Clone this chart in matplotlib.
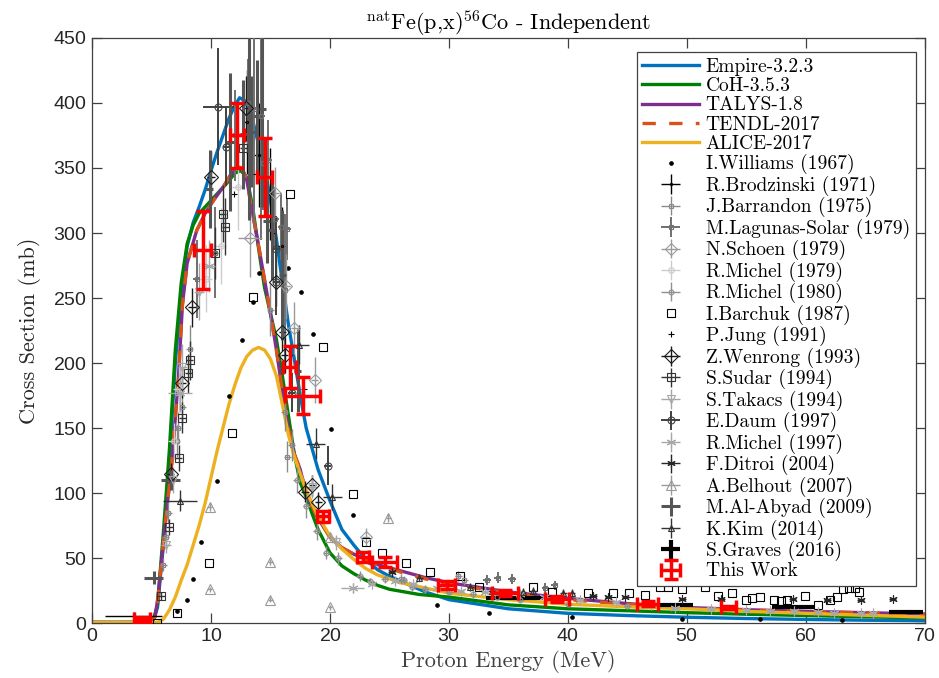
import matplotlib
matplotlib.use("Agg")
import matplotlib.pyplot as plt

plt.rcParams["font.family"] = ["cmr10", "DejaVu Serif"]
plt.rcParams["mathtext.fontset"] = "cm"
plt.rcParams["axes.formatter.use_mathtext"] = True

# ── Model curves ──────────────────────────────────────────────────────────────

emp_E = [0, 4.8, 5.2, 5.5, 6.0, 6.5, 7.0, 7.5, 8.0, 8.5, 9.0, 9.5, 10.0, 10.5, 11.0,
         11.5, 12.0, 12.4, 12.8, 13.2, 13.6, 14.0, 14.5, 15.0, 15.5, 16.0, 16.5, 17.0,
         17.5, 18.0, 18.5, 19.0, 19.5, 20.0, 21.0, 22.0, 23.0, 24.0, 25.0, 26.0, 28.0,
         30.0, 35.0, 40.0, 45.0, 50.0, 55.0, 60.0, 65.0, 70.0]
emp_s = [0.5, 0.5, 3, 12, 60, 125, 200, 255, 290, 308, 320, 333, 348, 362, 375,
         388, 398, 404, 402, 395, 383, 368, 350, 325, 295, 262, 230, 203,
         175, 150, 134, 118, 106, 94, 72, 60, 49, 41, 36, 32, 24,
         18, 11, 7.5, 5.8, 4.5, 3.5, 2.8, 2.2, 1.8]

coh_E = [0, 4.9, 5.2, 5.5, 6.0, 6.5, 7.0, 7.5, 8.0, 8.5, 9.0, 9.5, 10.0, 10.5, 11.0,
         11.5, 12.0, 12.5, 13.0, 13.5, 14.0, 14.5, 15.0, 15.5, 16.0, 16.5, 17.0, 17.5,
         18.0, 18.5, 19.0, 20.0, 21.0, 22.0, 23.0, 24.0, 25.0, 27.5, 30.0, 35.0, 40.0,
         45.0, 50.0, 55.0, 60.0, 65.0, 70.0]
coh_s = [0.5, 0.5, 4, 14, 70, 133, 210, 262, 292, 306, 315, 320, 325, 330, 335,
         340, 346, 348, 343, 320, 288, 258, 238, 218, 190, 160, 130, 108,
         97, 84, 72, 54, 44, 38, 33, 29, 26, 22, 20, 14, 11,
         9.5, 8.0, 6.8, 5.8, 4.8, 4.0]

tal_E = [0, 5.0, 5.3, 5.55, 6.1, 6.7, 7.25, 7.6, 8.0, 8.8, 9.5, 10.2, 11.0, 11.6,
         12.2, 12.6, 13.0, 13.5, 14.0, 14.5, 15.0, 15.5, 16.0, 16.5, 17.0, 17.5, 18.0,
         18.9, 20.0, 21.0, 22.0, 23.0, 24.0, 26.0, 28.0, 30.0, 35.0, 40.0, 45.0, 50.0,
         55.0, 60.0, 65.0, 70.0]
tal_s = [0.5, 0.5, 5, 20, 72, 123, 187, 245, 277, 302, 315, 325, 335, 344,
         351, 350, 341, 315, 290, 264, 238, 210, 178, 150, 130, 118, 100,
         82, 66, 58, 53, 49, 45, 40, 35, 31, 24, 19, 15, 12,
         10.3, 9.0, 8.0, 7.0]

ten_E = tal_E
ten_s = [0.5, 0.5, 5, 20, 72, 123, 187, 245, 277, 302, 315, 325, 335, 344,
         351, 350, 341, 315, 290, 264, 238, 210, 178, 150, 130, 118, 100,
         82, 66, 58, 53, 49, 45, 39, 34, 30, 23, 18, 14.5, 11.5,
         10.0, 8.8, 7.8, 6.8]

ali_E = [0, 5.5, 6.0, 6.5, 7.0, 7.5, 8.0, 8.5, 9.0, 9.5, 10.0, 10.5, 11.0, 11.5,
         12.0, 12.5, 13.0, 13.5, 14.0, 14.5, 15.0, 15.5, 16.0, 16.5, 17.0, 17.5, 18.0,
         19.0, 20.0, 21.0, 22.0, 23.0, 24.0, 26.0, 28.0, 30.0, 35.0, 40.0, 45.0, 50.0,
         55.0, 60.0, 65.0, 70.0]
ali_s = [0.5, 0.5, 3, 10, 20, 33, 45, 60, 75, 92, 112, 132, 150, 168,
         183, 196, 205, 210, 212, 210, 203, 190, 168, 145, 128, 115, 102,
         82, 67, 57, 49, 42, 37, 31, 27, 23, 18, 14.5, 12.5, 11,
         9, 7.5, 6, 4.6]

# ── Experimental data ────────────────────────────────────────────────────────

wil_E = [7.1, 8.0, 8.5, 9.2, 10.5, 11.5, 12.6, 13.5, 14.0, 14.1, 16.5, 17.6, 18.6,
         20.1, 21.9, 29.0, 33.4, 40.3, 49.6, 56.1, 63.0]
wil_s = [9, 18, 34, 62, 109, 175, 218, 247, 269, 398, 273, 255, 222,
         149, 83, 14, 7.5, 5, 3, 3, 2.5]

bro_E = [3.5, 13.0, 14.0, 15.0, 16.0]
bro_s = [5.5, 385, 360, 330, 290]
bro_dE = [2.4, 0.4, 0.4, 0.4, 0.4]
bro_ds = [3, 40, 40, 35, 30]

bar_E = [6.0, 6.2, 6.4, 7.1, 7.2, 7.6, 8.2, 15.0, 16.2, 16.4, 16.8, 26.0, 30.8, 31.3]
bar_s = [45, 66, 85, 140, 150, 166, 211, 241, 162, 128, 137, 34, 36, 33]
bar_dE = [0.3] * 14
bar_ds = [5, 6, 8, 12, 12, 14, 18, 20, 14, 12, 12, 4, 4, 4]

lag_E = [8.8, 10.3, 12.0, 13.1, 13.6, 14.2, 14.4, 14.8, 15.4, 15.9, 16.2, 16.4,
         33.2, 34.1, 35.3, 38.1, 38.9]
lag_s = [265, 285, 375, 400, 395, 390, 354, 356, 311, 305, 256, 303,
         33, 35, 34, 27, 29]
lag_dE = [0.3] * 17
lag_ds = [30, 35, 35, 34, 90, 95, 36, 31, 24, 26, 59, 24, 4, 4.5, 4, 3.5, 3.5]

sch_E = [13.3, 15.4, 16.3, 17.0, 18.7, 23.0]
sch_s = [296, 331, 259, 227, 187, 66]
sch_dE = [1.0, 0.3, 0.3, 0.3, 0.3, 0.3]
sch_ds = [30, 20, 25, 20, 18, 7]

m79_E = [6.9, 7.3, 9.6, 10.8, 12.3]
m79_s = [140, 180, 265, 290, 335]
m79_dE = [0.5, 0.5, 0.5, 0.5, 0.5]
m79_ds = [14, 18, 26, 29, 33]

m80_E = [17.2, 18.0, 18.9, 19.7, 20.7, 22.5, 23.4, 24.6, 26.2, 26.9, 28.0, 30.0,
         32.0, 34.0, 36.0, 40.0, 45.0]
m80_s = [110, 90, 71, 54, 50, 36, 32, 34, 33, 28, 26, 24, 22, 20, 18, 15, 13]
m80_dE = [0.3] * 17
m80_ds = [10, 9, 7, 5, 5, 4, 3, 3, 3, 3, 3, 2.5, 2.5, 2, 2, 2, 1.5]

bch_E = [5.5, 7.1, 9.8, 11.8, 13.5, 16.6, 19.4, 21.9, 23.0, 24.4, 26.4, 28.4, 30.9,
         32.5, 37.1, 38.7, 41.7, 43.8, 45.1, 46.5, 47.7, 48.4, 49.6, 51.5, 52.6, 53.8,
         55.0, 55.5, 56.1, 57.3, 57.9, 58.4, 59.9, 61.0, 62.0, 62.6, 63.1, 63.6, 64.1,
         64.5]
bch_s = [0, 8, 46, 146, 251, 330, 212, 99, 62, 54, 46, 39, 36,
         28, 28, 24, 23, 23, 23, 21.5, 28, 28, 26, 28, 21, 23,
         18, 19, 20, 18, 17, 18, 21, 14, 18, 20, 26, 27, 27,
         24]

jun_E = [11.9, 13.1, 13.8, 15.2, 17.8]
jun_s = [330, 391, 345, 300, 180]

wen_E = [6.6, 7.6, 8.4, 10.0, 12.9, 15.5, 16.0, 16.2, 17.9, 18.5, 19.0]
wen_s = [115, 185, 243, 343, 396, 262, 224, 206, 101, 106, 93]
wen_dE = [0.3] * 11
wen_ds = [8, 12, 15, 20, 25, 18, 15, 14, 8, 8, 8]

sud_E = [5.8, 6.5, 7.3, 7.6, 8.1, 8.2, 10.3, 11.0, 11.2, 12.7]
sud_s = [21, 74, 127, 158, 192, 202, 285, 315, 305, 365]
sud_dE = [0.3] * 10
sud_ds = [3, 6, 10, 12, 15, 15, 20, 22, 22, 25]

tak_E = [6.2, 6.8, 7.6, 9.0, 18.5, 20.5]
tak_s = [60, 110, 197, 255, 105, 62]
tak_dE = [0.4] * 6
tak_ds = [6, 10, 18, 22, 9, 6]

dau_E = [10.6, 11.3, 15.5, 15.5, 16.8, 19.8]
dau_s = [397, 366, 288, 262, 177, 121]
dau_dE = [1.3, 0.3, 0.3, 0.3, 0.3, 0.3]
dau_ds = [45, 30, 25, 25, 15, 15]

m97_E = [7.4, 9.8, 21.9, 23.5, 25.5, 27.0, 29.0, 31.0, 33.0, 36.0, 38.0, 41.0,
         44.0, 47.0, 49.0, 52.0, 55.0, 57.0, 59.0, 61.0, 62.4, 64.6, 65.6]
m97_s = [177, 275, 27, 30, 32, 30, 27, 25, 24, 22, 20, 18,
         16, 14, 11.5, 11, 10, 9.5, 9, 8.5, 7.5, 7.5, 7.5]
m97_dE = [1.0, 0.5, 1.0] + [0.3] * 20
m97_ds = [15, 20, 4] + [2] * 20

dit_E = [25.2, 42.1, 43.4, 44.8, 49.6, 52.9, 58.9, 61.8, 64.6, 67.3]
dit_s = [39, 21, 20, 20, 18.5, 18.5, 18.5, 18, 18, 18.5]
dit_dE = [0.3] * 10
dit_ds = [3, 1.5, 1.5, 1.5, 1.5, 1.5, 1.5, 1.5, 1.5, 1.5]

bel_E = [9.9, 9.9, 15.0, 15.0, 20.0, 20.0, 24.9]
bel_s = [89, 26, 47, 18, 12, 66, 81]
bel_dE = [0.2] * 7
bel_ds = [3, 2, 2, 2, 2, 3, 3]

aby_E = [5.2, 6.6, 9.9, 11.6, 12.7, 13.2, 13.4, 13.9, 14.3, 14.7, 15.1, 16.0, 17.3]
aby_s = [35, 110, 334, 370, 376, 390, 378, 390, 395, 309, 302, 268, 194]
aby_dE = [0.8, 0.8, 0.3, 0.3, 0.3, 0.3, 0.3, 0.3, 0.3, 0.3, 0.3, 0.3, 0.3]
aby_ds = [5, 8, 30, 53, 42, 80, 43, 43, 75, 32, 38, 50, 32]

kim_E = [7.4, 17.4, 18.8, 20.2, 27.5, 31.8, 33.6, 36.2, 37.1, 39.6, 40.3]
kim_s = [94, 214, 138, 97, 35, 28, 25, 24, 25, 23, 23]
kim_dE = [1.4, 0.8, 0.8, 0.8, 0.3, 0.3, 0.3, 0.3, 0.3, 0.3, 0.3]
kim_ds = [8, 15, 12, 10, 3, 3, 3, 3, 3, 3, 3]

gra_E = [35.5, 49.0, 58.9, 68.4]
gra_s = [19, 14, 12, 8.5]
gra_dE = [2.4, 1.5, 1.75, 1.45]
gra_ds = [1.5, 1.2, 1.0, 0.8]

tw_E = [4.2, 9.3, 12.2, 14.5, 16.6, 17.7, 19.4, 22.8, 24.6, 29.8, 34.7, 39.1, 46.7, 53.5]
tw_s = [3, 287, 375, 343, 197, 175, 82, 51, 47, 29, 23, 18.5, 15, 12]
tw_dE = [0.7, 0.7, 0.6, 0.6, 0.55, 1.5, 0.5, 0.5, 1.05, 0.7, 1.1, 1.0, 0.9, 0.65]
tw_ds = [2, 30, 25, 30, 16, 14, 4, 4, 4, 3, 2.5, 2, 2, 1.5]

# ── Plot ──────────────────────────────────────────────────────────────────────

fig = plt.figure(figsize=(9.39, 6.78), dpi=100)
ax = fig.add_axes([0.098, 0.081, 0.887, 0.863])

handles = []
handles += ax.plot(emp_E, emp_s, color="#0072BD", lw=2.4, label="Empire-3.2.3", zorder=2)
handles += ax.plot(coh_E, coh_s, color="#008000", lw=2.4, label="CoH-3.5.3", zorder=2)
handles += ax.plot(tal_E, tal_s, color="#7E2F8E", lw=2.4, label="TALYS-1.8", zorder=2)
handles += ax.plot(ten_E, ten_s, color="#D95319", lw=2.4, ls=(0, (4, 4)),
                   label="TENDL-2017", zorder=2)
handles += ax.plot(ali_E, ali_s, color="#EDB120", lw=2.4, label="ALICE-2017", zorder=2)


def eb(E, s, dE, ds, label, color, marker="none", ms=4, lw=1.0):
    if marker == "none":
        style = dict(fmt="none")
    else:
        style = dict(fmt="", marker=marker, ls="none", ms=ms, mfc="none",
                     mec=color, mew=0.8)
    c = ax.errorbar(E, s, yerr=ds, xerr=dE, ecolor=color, elinewidth=lw,
                    capsize=0, label=label, zorder=3, **style)
    handles.append(c)


def pts(E, s, label, color, marker, ms, fill="none"):
    handles.extend(ax.plot(E, s, ls="none", marker=marker, ms=ms, color=color,
                           mfc=fill, mec=color, mew=0.8, label=label, zorder=3))


asterisk = (6, 2, 0)

pts(wil_E, wil_s, "I.Williams (1967)", "black", ".", 5, fill="black")
eb(bro_E, bro_s, bro_dE, bro_ds, "R.Brodzinski (1971)", "black", ".", 3)
eb(bar_E, bar_s, bar_dE, bar_ds, "J.Barrandon (1975)", "#8a8a8a", "s", 3.5)
eb(lag_E, lag_s, lag_dE, lag_ds, "M.Lagunas-Solar (1979)", "#707070", "s", 3.5, lw=1.4)
eb(sch_E, sch_s, sch_dE, sch_ds, "N.Schoen (1979)", "#9a9a9a", "D", 6)
eb(m79_E, m79_s, m79_dE, m79_ds, "R.Michel (1979)", "#cccccc", "o", 4)
eb(m80_E, m80_s, m80_dE, m80_ds, "R.Michel (1980)", "#909090", "o", 3.5)
pts(bch_E, bch_s, "I.Barchuk (1987)", "black", "s", 5.5)
pts(jun_E, jun_s, "P.Jung (1991)", "black", "+", 5)
eb(wen_E, wen_s, wen_dE, wen_ds, "Z.Wenrong (1993)", "#1a1a1a", "D", 7)
eb(sud_E, sud_s, sud_dE, sud_ds, "S.Sudar (1994)", "#333333", "s", 6)
eb(tak_E, tak_s, tak_dE, tak_ds, "S.Takacs (1994)", "#a6a6a6", "v", 6)
eb(dau_E, dau_s, dau_dE, dau_ds, "E.Daum (1997)", "#404040", "o", 5, lw=1.4)
eb(m97_E, m97_s, m97_dE, m97_ds, "R.Michel (1997)", "#a8a8a8", asterisk, 7)
eb(dit_E, dit_s, dit_dE, dit_ds, "F.Ditroi (2004)", "#262626", asterisk, 6)
eb(bel_E, bel_s, bel_dE, bel_ds, "A.Belhout (2007)", "#9a9a9a", "^", 7)
eb(aby_E, aby_s, aby_dE, aby_ds, "M.Al-Abyad (2009)", "#555555", lw=2.2)
eb(kim_E, kim_s, kim_dE, kim_ds, "K.Kim (2014)", "#333333", "^", 4)
eb(gra_E, gra_s, gra_dE, gra_ds, "S.Graves (2016)", "black", lw=3.0)

tw = ax.errorbar(tw_E, tw_s, yerr=tw_ds, xerr=tw_dE, fmt="none", ecolor="red",
                 elinewidth=2.5, capsize=5, capthick=2.5, label="This Work", zorder=5)
handles.append(tw)

ax.set_xlim(0, 70)
ax.set_ylim(0, 450)
ax.set_xticks(range(0, 71, 10))
ax.set_yticks(range(0, 451, 50))
ax.tick_params(direction="in", top=True, right=True, length=7, width=0.9,
               color="#404040", labelsize=14, labelcolor="#262626",
               labelfontfamily="Liberation Sans")
for sp in ax.spines.values():
    sp.set_color("#404040")
    sp.set_linewidth(0.9)

ax.set_xlabel("Proton Energy (MeV)", fontsize=16, color="#404040", labelpad=4)
ax.set_ylabel("Cross Section (mb)", fontsize=16, color="#262626", labelpad=9)
ax.set_title(r"$^{\mathrm{nat}}$Fe(p,x)$^{56}$Co - Independent", fontsize=16, pad=6)

leg = ax.legend(handles=handles, loc="upper right", bbox_to_anchor=(0.989, 0.976),
                fontsize=14, frameon=True, fancybox=False, framealpha=1,
                edgecolor="#404040", handlelength=2.9, handletextpad=0.35,
                labelspacing=0.07, borderpad=0.3, borderaxespad=0)
leg.get_frame().set_linewidth(0.9)

fig.savefig("out.png", dpi=100)
